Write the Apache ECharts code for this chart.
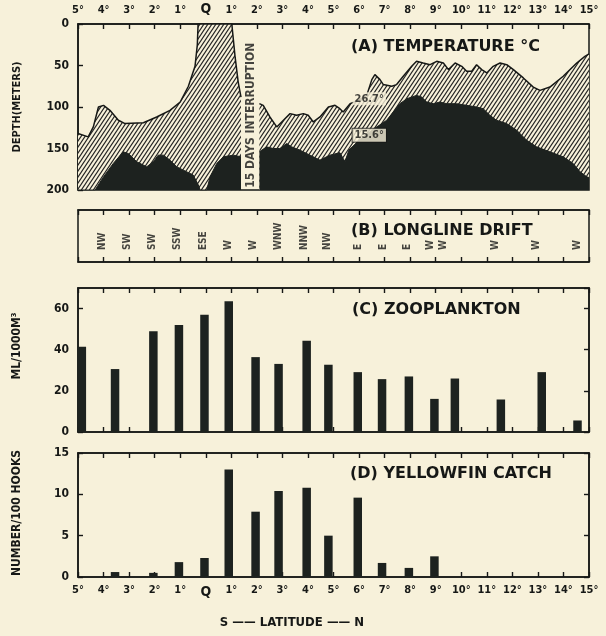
<!DOCTYPE html>
<html><head><meta charset="utf-8">
<script src="https://cdn.jsdelivr.net/npm/echarts@6/dist/echarts.min.js"></script>
<style>html,body{margin:0;padding:0;background:#f7f1da;}#c{width:606px;height:636px;}</style>
</head><body><div id="c"></div>
<script>
// ---------- data ----------
const latLabels = ['5°','4°','3°','2°','1°','Q','1°','2°','3°','4°','5°','6°','7°','8°','9°','10°','11°','12°','13°','14°','15°'];
const depthTicks = [0, 50, 100, 150, 200];
// depth (m) of the 26.7 °C isotherm, [latitude, depth]; null = 15 days interruption
const iso267 = [[-5,132],[-4.6,136],[-4.4,124],[-4.2,100],[-4.0,98],[-3.75,104],[-3.42,116],[-3.16,120],[-2.44,119],[-1.92,112],[-1.4,104],[-1.0,94],[-0.68,75],[-0.42,51],[-0.33,25],[-0.3,0],[1.02,0],[1.15,40],[1.27,70],[1.38,88],[1.76,null],[2.1,96],[2.25,98],[2.51,112],[2.78,124],[3.04,116],[3.3,108],[3.56,110],[3.82,108],[4.01,110],[4.21,118],[4.47,112],[4.8,100],[5.06,98],[5.25,102],[5.38,106],[5.65,96],[5.97,92],[6.3,86],[6.5,67],[6.62,61],[6.82,67],[6.95,73],[7.28,75],[7.47,73],[7.73,63],[8.06,51],[8.25,45],[8.51,47],[8.78,49],[9.04,45],[9.3,47],[9.5,55],[9.76,47],[10.02,51],[10.21,57],[10.41,57],[10.6,49],[10.8,55],[11.0,59],[11.25,51],[11.52,47],[11.78,49],[12.04,55],[12.43,65],[12.82,76],[13.08,80],[13.47,76],[13.99,63],[14.52,47],[14.84,39],[15,36]];
// depth (m) of the 15.6 °C isotherm
const iso156 = [[-5,200],[-4.33,200],[-4.0,184],[-3.62,168],[-3.23,154],[-3.03,156],[-2.7,166],[-2.31,172],[-2.05,166],[-1.86,158],[-1.66,158],[-1.4,164],[-1.14,172],[-0.75,178],[-0.49,182],[-0.29,194],[-0.22,200],[0.04,200],[0.17,184],[0.43,168],[0.69,160],[1.08,158],[1.38,160],[1.76,null],[2.1,154],[2.38,148],[2.64,150],[2.9,150],[3.17,144],[3.36,148],[3.69,152],[4.08,158],[4.47,164],[4.86,158],[5.25,155],[5.45,166],[5.6,152],[6.0,140],[6.5,128],[7.08,116],[7.6,96],[7.87,90],[8.25,86],[8.45,88],[8.65,94],[8.9,96],[9.17,94],[9.43,96],[9.82,96],[10.21,98],[10.6,100],[10.86,102],[11.12,110],[11.38,116],[11.78,120],[12.17,128],[12.56,140],[12.95,148],[13.47,154],[13.99,160],[14.38,168],[14.65,178],[14.91,184],[15,185]];
// (B) longline drift
const driftLat = [-4.06,-3.08,-2.10,-1.09,-0.11,0.87,1.85,2.83,3.88,4.78,5.96,6.94,7.88,8.78,9.29,11.32,12.96,14.53];
const driftDir = ['NW','SW','SW','SSW','ESE','W','W','WNW','NNW','NW','E','E','E','W','W','W','W','W'];
// (C) zooplankton ml/1000 m3
const zooLat = [-4.85,-3.55,-2.05,-1.05,-0.05,0.9,1.95,2.85,3.95,4.8,5.95,6.9,7.95,8.95,9.75,11.55,13.15,14.55];
const zooVal = [41.5,30.6,49,52,57,63.5,36.4,33.1,44.4,32.7,29.1,25.7,27,16.1,26,15.8,29.1,5.6];
// (D) yellowfin catch number/100 hooks
const catchLat = [-3.55,-2.05,-1.05,-0.05,0.9,1.95,2.85,3.95,4.8,5.95,6.9,7.95,8.95];
const catchVal = [0.6,0.5,1.8,2.3,13.0,7.9,10.4,10.8,5.0,9.6,1.7,1.1,2.5];

// ---------- style ----------
const BG = '#f7f1da', INK = '#161816', DARK = '#1d221f';
const F = '"DejaVu Sans Condensed","Liberation Sans Narrow","DejaVu Sans",sans-serif';
const FT = '"DejaVu Sans",sans-serif';

function hatch() {
  const w = 4, h = 6, c = document.createElement('canvas');
  c.width = w; c.height = h;
  const g = c.getContext('2d');
  g.fillStyle = BG; g.fillRect(0, 0, w, h);
  g.strokeStyle = '#222'; g.lineWidth = 1.2;
  g.beginPath();
  for (const k of [0, 1, 2]) { g.moveTo(w * (k + 1), -h); g.lineTo(w * (k - 2), 2 * h); }
  g.stroke();
  return c;
}

const chart = echarts.init(document.getElementById('c'), null, {renderer: 'canvas'});
const L = 78, R = 17;
const grids = [
  {left: L, right: R, top: 24, height: 166},
  {left: L, right: R, top: 210, height: 52},
  {left: L, right: R, top: 288, height: 144},
  {left: L, right: R, top: 453, height: 124}
].map(g => Object.assign(g, {show: true, borderColor: INK, borderWidth: 1.5, backgroundColor: 'transparent', containLabel: false}));

const tick = {show: true, inside: true, length: 5, lineStyle: {color: INK, width: 1.4}};
const axLine = {show: true, onZero: false, lineStyle: {color: INK, width: 1.5}};
function latFmt(v) { const s = latLabels[Math.round(v) + 5]; return s === 'Q' ? '{q|Q}' : s; }
function xAx(gi, pos, labels) {
  return {type: 'value', gridIndex: gi, position: pos, min: -5, max: 15, interval: 1,
    axisLine: axLine, splitLine: {show: false}, axisTick: tick,
    axisLabel: labels ? {show: true, margin: 8, fontSize: 11, fontWeight: 'bold', fontFamily: F, color: INK,
      formatter: latFmt, rich: {q: {fontSize: 14, fontWeight: 'bold', fontFamily: F, color: INK}}} : {show: false}};
}
function yAx(gi, pos, min, max, interval, labels, showMax, inverse) {
  return {type: 'value', gridIndex: gi, position: pos, min, max, interval, inverse: !!inverse,
    axisLine: axLine, splitLine: {show: false}, axisTick: tick,
    axisLabel: labels ? {show: true, margin: 9, fontSize: 12, fontWeight: 'bold', fontFamily: F, color: INK, showMaxLabel: !!showMax} : {show: false}};
}

const lbl = {fontFamily: F, fontWeight: 'bold', color: INK};
const titleStyle = {fontSize: 16, fontWeight: 'bold', fontFamily: FT, color: INK};

const option = {
  backgroundColor: BG,
  animation: false,
  grid: grids,
  title: [
    {text: '(A) TEMPERATURE °C', left: 351, top: 39, padding: 0, textStyle: titleStyle},
    {text: '(B) LONGLINE DRIFT', left: 351, top: 223, padding: 0, textStyle: titleStyle},
    {text: '(C) ZOOPLANKTON', left: 352, top: 302, padding: 0, textStyle: titleStyle},
    {text: '(D) YELLOWFIN CATCH', left: 350, top: 466, padding: 0, textStyle: titleStyle}
  ],
  xAxis: [
    xAx(0, 'top', true),
    xAx(1, 'top', false), xAx(1, 'bottom', false),
    xAx(2, 'top', false), xAx(2, 'bottom', false),
    xAx(3, 'top', false), xAx(3, 'bottom', true)
  ],
  yAxis: [
    yAx(0, 'left', depthTicks[0], depthTicks[depthTicks.length - 1], 50, true, true, true),
    Object.assign(yAx(1, 'left', 0, 1, 1, false), {show: false}),
    yAx(2, 'left', 0, 70, 20, true, false), yAx(2, 'right', 0, 70, 20, false),
    yAx(3, 'left', 0, 15, 5, true, true), yAx(3, 'right', 0, 15, 5, false)
  ],
  series: [
    {type: 'line', xAxisIndex: 0, yAxisIndex: 0, data: iso267, symbol: 'none', connectNulls: false,
      lineStyle: {color: INK, width: 1.5}, areaStyle: {origin: 'end', opacity: 1, color: {image: hatch(), repeat: 'repeat'}}, z: 2},
    {type: 'line', xAxisIndex: 0, yAxisIndex: 0, data: iso156, symbol: 'none', connectNulls: false,
      lineStyle: {color: DARK, width: 1}, areaStyle: {origin: 'end', opacity: 1, color: DARK}, z: 3},
    {type: 'scatter', xAxisIndex: 0, yAxisIndex: 0, symbolSize: 1, itemStyle: {color: 'rgba(0,0,0,0)'}, z: 6,
      data: [
        {value: [1.76, 110], label: {formatter: '15 DAYS INTERRUPTION', rotate: 90, fontSize: 12}},
        {value: [6.4, 90], label: {formatter: '26.7°', fontSize: 11, backgroundColor: BG, padding: [1, 2]}},
        {value: [6.4, 134], label: {formatter: '15.6°', fontSize: 11, backgroundColor: BG, borderColor: INK, borderWidth: 1, padding: [1, 2]}}
      ],
      label: Object.assign({show: true, position: 'inside', align: 'center', verticalAlign: 'middle'}, lbl)},
    {type: 'scatter', xAxisIndex: 1, yAxisIndex: 1, symbolSize: 1, itemStyle: {color: 'rgba(0,0,0,0)'}, z: 6,
      data: driftLat.map((x, i) => ({value: [x, 0.23], name: driftDir[i]})),
      label: Object.assign({show: true, position: 'inside', formatter: p => p.name, rotate: 90, align: 'left', verticalAlign: 'middle', fontSize: 10}, lbl)},
    {type: 'bar', xAxisIndex: 4, yAxisIndex: 2, barWidth: 8.5, itemStyle: {color: DARK},
      data: zooLat.map((x, i) => [x, zooVal[i]])},
    {type: 'bar', xAxisIndex: 6, yAxisIndex: 4, barWidth: 8.5, itemStyle: {color: DARK},
      data: catchLat.map((x, i) => [x, catchVal[i]])}
  ],
  graphic: [
    {type: 'text', x: 17, y: 107, rotation: Math.PI / 2, style: {text: 'DEPTH(METERS)', fontSize: 11, fontWeight: 'bold', fontFamily: F, fill: INK, align: 'center', verticalAlign: 'middle'}},
    {type: 'text', x: 17, y: 346, rotation: Math.PI / 2, style: {text: 'ML/1000M³', fontSize: 12, fontWeight: 'bold', fontFamily: F, fill: INK, align: 'center', verticalAlign: 'middle'}},
    {type: 'text', x: 17, y: 513, rotation: Math.PI / 2, style: {text: 'NUMBER/100 HOOKS', fontSize: 12, fontWeight: 'bold', fontFamily: F, fill: INK, align: 'center', verticalAlign: 'middle'}},
    {type: 'text', x: 292, y: 623, style: {text: 'S —— LATITUDE —— N', fontSize: 13, fontWeight: 'bold', fontFamily: F, fill: INK, align: 'center', verticalAlign: 'middle'}}
  ]
};
chart.setOption(option);
</script>
</body></html>
